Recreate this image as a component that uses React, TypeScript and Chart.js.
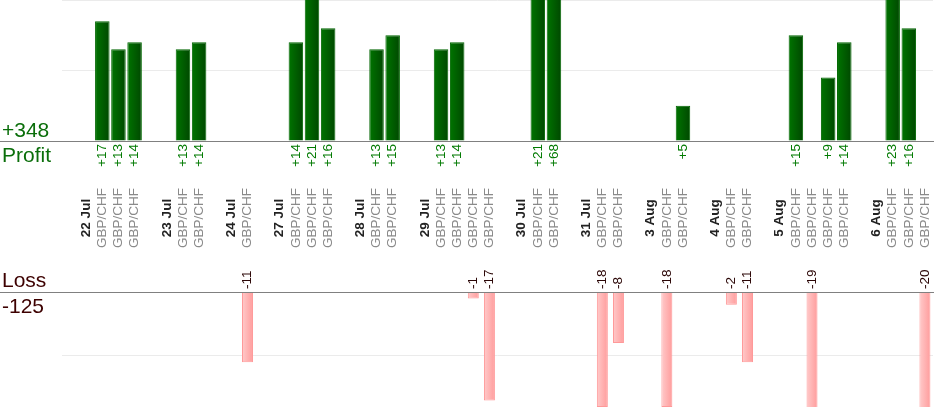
import { useEffect, useRef } from 'react';
import { Chart, registerables } from 'chart.js';

Chart.register(...registerables);

// one slot per column: blank spacer, date heading, or a trade
const categories = [
  '', '22 Jul', 'GBP/CHF', 'GBP/CHF', 'GBP/CHF',
  '', '23 Jul', 'GBP/CHF', 'GBP/CHF',
  '', '24 Jul', 'GBP/CHF',
  '', '27 Jul', 'GBP/CHF', 'GBP/CHF', 'GBP/CHF',
  '', '28 Jul', 'GBP/CHF', 'GBP/CHF',
  '', '29 Jul', 'GBP/CHF', 'GBP/CHF', 'GBP/CHF', 'GBP/CHF',
  '', '30 Jul', 'GBP/CHF', 'GBP/CHF',
  '', '31 Jul', 'GBP/CHF', 'GBP/CHF',
  '', '3 Aug', 'GBP/CHF', 'GBP/CHF',
  '', '4 Aug', 'GBP/CHF', 'GBP/CHF',
  '', '5 Aug', 'GBP/CHF', 'GBP/CHF', 'GBP/CHF', 'GBP/CHF',
  '', '6 Aug', 'GBP/CHF', 'GBP/CHF', 'GBP/CHF',
];

const dateLabels = ['22 Jul', '23 Jul', '24 Jul', '27 Jul', '28 Jul', '29 Jul', '30 Jul', '31 Jul', '3 Aug', '4 Aug', '5 Aug', '6 Aug'];

const profits = [
  null, null, 17, 13, 14,
  null, null, 13, 14,
  null, null, null,
  null, null, 14, 21, 16,
  null, null, 13, 15,
  null, null, 13, 14, null, null,
  null, null, 21, 68,
  null, null, null, null,
  null, null, null, 5,
  null, null, null, null,
  null, null, 15, null, 9, 14,
  null, null, 23, 16, null,
];

const losses = [
  null, null, null, null, null,
  null, null, null, null,
  null, null, -11,
  null, null, null, null, null,
  null, null, null, null,
  null, null, null, null, -1, -17,
  null, null, null, null,
  null, null, -18, -8,
  null, null, -18, null,
  null, null, -2, -11,
  null, null, null, -19, null, null,
  null, null, null, null, -20,
];

const profitTicks = [0, 20];
const lossTicks = [-18, 0];

const FONT = "'Liberation Sans', Arial, sans-serif";
const PROFIT_BAR = 0.9;
const LOSS_BAR = 0.68;

const barGradient = (left: string, right: string, pct: number) => (context: any) => {
  const chart = context.chart;
  const xs = chart.scales?.x;
  if (!chart.chartArea || !xs) return right;
  const xc = xs.getPixelForValue(context.dataIndex);
  const half = (xs.width / categories.length) * pct / 2;
  const g = chart.ctx.createLinearGradient(xc - half, 0, xc + half, 0);
  g.addColorStop(0, left);
  g.addColorStop(1, right);
  return g;
};

const labelsPlugin = {
  id: 'tradeLabels',
  afterDatasetsDraw(chart: any) {
    const { ctx, scales } = chart;
    const xs = scales.x;
    const zeroP = scales.yP.getPixelForValue(0);
    const zeroL = scales.yL.getPixelForValue(0);
    const midY = scales.yM.getPixelForValue(0.49);

    ctx.save();
    ctx.strokeStyle = '#808080';
    ctx.lineWidth = 1;
    [zeroP, zeroL].forEach((y) => {
      const yy = Math.round(y) + 0.5;
      ctx.beginPath();
      ctx.moveTo(0, yy);
      ctx.lineTo(chart.width, yy);
      ctx.stroke();
    });

    const rotated = (text: string, px: number, py: number, align: CanvasTextAlign, color: string, font: string) => {
      ctx.save();
      ctx.translate(px, py);
      ctx.rotate(-Math.PI / 2);
      ctx.textAlign = align;
      ctx.textBaseline = 'middle';
      ctx.fillStyle = color;
      ctx.font = font;
      ctx.fillText(text, 0, 0);
      ctx.restore();
    };

    categories.forEach((cat, i) => {
      const xc = xs.getPixelForValue(i);
      if (cat) {
        const isDate = dateLabels.includes(cat);
        rotated(cat, xc, midY, 'center', isDate ? '#222222' : '#8a8a8a', isDate ? `bold 13.5px ${FONT}` : `13.5px ${FONT}`);
      }
      const p = profits[i];
      if (p != null) rotated(`+${p}`, xc, zeroP + 3, 'right', '#007a00', `13.5px ${FONT}`);
      const l = losses[i];
      if (l != null) rotated(`${l}`, xc, zeroL - 3, 'left', '#2a0505', `13.5px ${FONT}`);
    });

    const totalProfit = profits.reduce((s: number, v) => s + (v ?? 0), 0);
    const totalLoss = losses.reduce((s: number, v) => s + (v ?? 0), 0);
    ctx.font = `21px ${FONT}`;
    ctx.textAlign = 'left';
    ctx.textBaseline = 'alphabetic';
    ctx.fillStyle = '#0a6e0a';
    ctx.fillText(`+${totalProfit}`, 2, zeroP - 4);
    ctx.fillText('Profit', 2, zeroP + 21);
    ctx.fillStyle = '#3d0000';
    ctx.fillText('Loss', 2, zeroL - 5);
    ctx.fillText(`${totalLoss}`, 2, zeroL + 21);
    ctx.restore();
  },
};

const App = () => {
  const canvasRef = useRef(null as HTMLCanvasElement | null);
  const chartRef = useRef(null as any);

  useEffect(() => {
    if (!canvasRef.current) return;
    const ctx = canvasRef.current.getContext('2d');
    if (!ctx) return;
    if (chartRef.current) chartRef.current.destroy();

    chartRef.current = new Chart(ctx, {
      type: 'bar',
      data: {
        labels: categories,
        datasets: [
          {
            label: 'Profit',
            data: profits,
            yAxisID: 'yP',
            backgroundColor: barGradient('#007400', '#004800', PROFIT_BAR),
            borderColor: '#006600',
            borderWidth: 1,
            barPercentage: PROFIT_BAR,
            categoryPercentage: 1,
            grouped: false,
          },
          {
            label: 'Loss',
            data: losses,
            yAxisID: 'yL',
            backgroundColor: barGradient('#ffcaca', '#ff9c9c', LOSS_BAR),
            borderColor: '#ff9999',
            borderWidth: 1,
            barPercentage: LOSS_BAR,
            categoryPercentage: 1,
            grouped: false,
          },
        ],
      },
      options: {
        responsive: true,
        maintainAspectRatio: false,
        animation: false,
        layout: { padding: { left: 62, right: 1, top: 0, bottom: 13 } },
        plugins: { legend: { display: false }, tooltip: { enabled: false } },
        scales: {
          x: { display: false, offset: true },
          yP: {
            type: 'linear',
            position: 'left',
            stack: 'rows',
            stackWeight: 141,
            weight: 3,
            min: profitTicks[0],
            max: profitTicks[1],
            ticks: { display: false, stepSize: 10 },
            border: { display: false },
            grid: {
              drawTicks: false,
              color: (c: any) => (c.tick && c.tick.value === 0 ? 'rgba(0,0,0,0)' : '#ebebeb'),
            },
          },
          yM: {
            type: 'linear',
            position: 'left',
            stack: 'rows',
            stackWeight: 151,
            weight: 2,
            min: 0,
            max: 1,
            ticks: { display: false },
            border: { display: false },
            grid: { display: false, drawTicks: false },
          },
          yL: {
            type: 'linear',
            position: 'left',
            stack: 'rows',
            stackWeight: 115,
            weight: 1,
            min: lossTicks[0],
            max: lossTicks[1],
            ticks: { display: false, stepSize: 10 },
            border: { display: false },
            grid: {
              drawTicks: false,
              color: (c: any) => (c.tick && c.tick.value === -10 ? '#ebebeb' : 'rgba(0,0,0,0)'),
            },
          },
        },
      } as any,
      plugins: [labelsPlugin],
    });

    return () => {
      if (chartRef.current) {
        chartRef.current.destroy();
        chartRef.current = null;
      }
    };
  }, []);

  return (
    <div style={{ position: 'fixed', left: 0, top: 0, width: 934, height: 420, background: '#fff' }}>
      <canvas ref={canvasRef} />
    </div>
  );
};

export default App;
